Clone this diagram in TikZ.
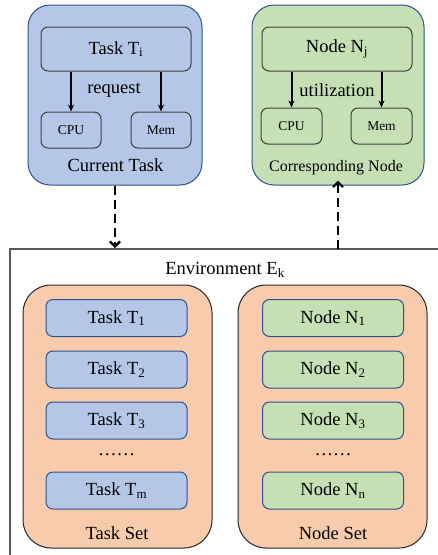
\documentclass[tikz,border=0pt]{standalone}
\usepackage{fontspec}
\setmainfont{Liberation Serif}
\usetikzlibrary{arrows.meta}
\definecolor{blueF}{HTML}{B4C7E7}
\definecolor{blueD}{HTML}{2F528F}
\definecolor{greenF}{HTML}{C5E0B4}
\definecolor{orangeF}{HTML}{F8CBAD}
\definecolor{envG}{HTML}{595959}
\newcommand{\fsBig}{\fontsize{18.5}{22}\selectfont}
\newcommand{\fsMid}{\fontsize{16}{19}\selectfont}
\newcommand{\fsSmall}{\fontsize{13.5}{16}\selectfont}
\begin{document}
\begin{tikzpicture}[x=1pt,y=-1pt,
  outerbox/.style={draw=blueD, line width=1pt, rounded corners=22pt, inner sep=0pt},
  innerbox/.style={draw=black!75, line width=1pt, rounded corners=7pt, inner sep=0pt},
  setbox/.style={draw=black!85, fill=orangeF, line width=1pt, rounded corners=28pt, inner sep=0pt},
  itembox/.style={draw=blueD, line width=1pt, rounded corners=7pt, inner sep=0pt, minimum width=141pt, minimum height=37pt, font=\fsBig},
  solidarrow/.style={line width=2pt, -{Stealth[length=7pt,width=6pt]}},
  dasharrow/.style={line width=2.4pt, dash pattern=on 9pt off 5pt, -{Straight Barb[length=5pt,width=10pt,line width=2.2pt]}},
  lbl/.style={inner sep=0pt}]
\useasboundingbox (0,0) rectangle (438,555);
% environment frame
\draw[envG, line width=1.5pt] (10,560) -- (10,249) -- (440,249);
\node[lbl, font=\fsBig] (envlbl) at (225,270) {Environment E\textsubscript{k}};
% current task
\node[outerbox, fill=blueF, minimum width=174pt, minimum height=180pt] (cur) at (115,95) {};
\node[innerbox, fill=blueF, minimum width=150pt, minimum height=44pt, font=\fsBig] (ti) at (116,49) {Task T\textsubscript{i}};
\node[innerbox, fill=blueF, minimum width=60pt, minimum height=36pt, font=\fsSmall] (cpuL) at (71,130) {CPU};
\node[innerbox, fill=blueF, minimum width=60pt, minimum height=36pt, font=\fsSmall] (memL) at (161,130) {Mem};
\draw[solidarrow] (ti.south -| cpuL) -- (cpuL.north);
\draw[solidarrow] (ti.south -| memL) -- (memL.north);
\node[lbl, font=\fsBig] (req) at (114,90) {request};
\node[lbl, font=\fsBig] (curlbl) at (115.5,165) {Current Task};
% corresponding node
\node[outerbox, fill=greenF, minimum width=172pt, minimum height=180pt] (cor) at (338,95) {};
\node[innerbox, fill=greenF, minimum width=150pt, minimum height=44pt, font=\fsBig] (nj) at (337,49) {Node N\textsubscript{j}};
\node[innerbox, fill=greenF, minimum width=61pt, minimum height=36pt, font=\fsSmall] (cpuR) at (291.5,126) {CPU};
\node[innerbox, fill=greenF, minimum width=61pt, minimum height=36pt, font=\fsSmall] (memR) at (381.5,126) {Mem};
\draw[solidarrow] (nj.south -| cpuR) -- (cpuR.north);
\draw[solidarrow] (nj.south -| memR) -- (memR.north);
\node[lbl, font=\fsBig] (util) at (337,90) {utilization};
\node[lbl, font=\fsMid] (corlbl) at (336,168) {Corresponding Node};
% dashed arrows
\coordinate (envin) at (115,248);
\coordinate (envout) at (338,249);
\draw[dasharrow] (cur.south) -- (envin);
\draw[dasharrow] (envout) -- ([yshift=5pt]cor.south);
% task set
\node[setbox, minimum width=189pt, minimum height=263pt] (tset) at (117.5,416.5) {};
\node[itembox, fill=blueF] (t1) at (116.5,318) {Task T\textsubscript{1}};
\node[itembox, fill=blueF] (t2) at (116.5,369.5) {Task T\textsubscript{2}};
\node[itembox, fill=blueF] (t3) at (116.5,420.5) {Task T\textsubscript{3}};
\node[lbl, font=\fsBig] (tdots) at (116.5,455) {……};
\node[itembox, fill=blueF] (tm) at (116.5,490.5) {Task T\textsubscript{m}};
\node[lbl, font=\fsBig] (tsetlbl) at (117,533) {Task Set};
% node set
\node[setbox, minimum width=189pt, minimum height=263pt] (nset) at (332.5,416.5) {};
\node[itembox, fill=greenF] (n1) at (333,318) {Node N\textsubscript{1}};
\node[itembox, fill=greenF] (n2) at (333,369.5) {Node N\textsubscript{2}};
\node[itembox, fill=greenF] (n3) at (333,420.5) {Node N\textsubscript{3}};
\node[lbl, font=\fsBig] (ndots) at (333,455) {……};
\node[itembox, fill=greenF] (nn) at (333,490.5) {Node N\textsubscript{n}};
\node[lbl, font=\fsBig] (nsetlbl) at (333,533) {Node Set};
\end{tikzpicture}
\end{document}
